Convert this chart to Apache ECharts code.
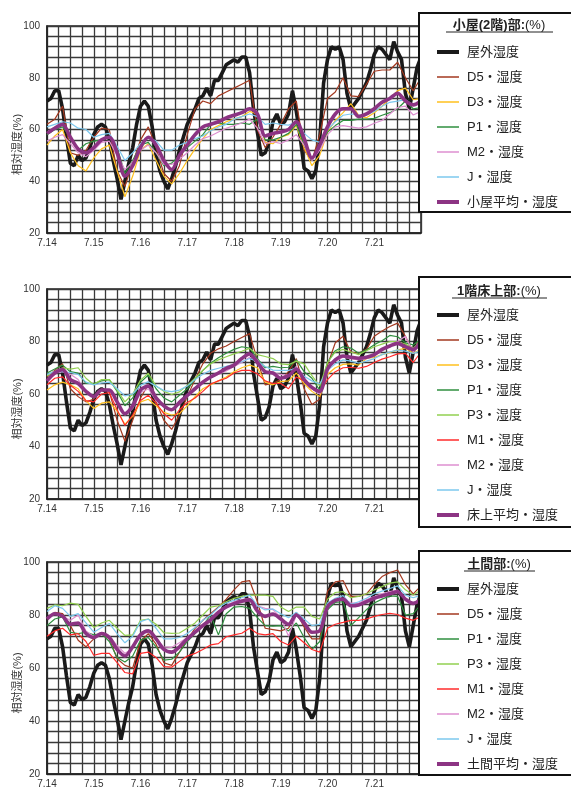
<!DOCTYPE html>
<html>
<head>
<meta charset="utf-8">
<script src="https://cdn.jsdelivr.net/npm/echarts@6/dist/echarts.min.js"></script>
<style>
  html, body { margin: 0; padding: 0; background: #fff; }
  #chart { width: 571px; height: 790px; }
</style>
</head>
<body>
<div id="chart"></div>
<script>
// Relative humidity, 7/14 - 7/22. Day 0 = 7.14 00:00.
const dayLabels = ['7.14', '7.15', '7.16', '7.17', '7.18', '7.19', '7.20', '7.21', '7.22'];
const yTicks = [20, 40, 60, 80, 100];

// sampling intervals (hours)
const outdoorStepHours = 2;
const indoorStepHours = 4;

// 屋外湿度 (every 2 h)
const outdoorRH = [
  71, 72, 75, 75, 68, 57, 47, 46, 50, 48, 49, 53,
  58, 61, 62, 61, 56, 48, 41, 33, 40, 47, 53, 62,
  69, 71, 69, 61, 50, 44, 40, 37, 41, 46, 52, 57,
  62, 65, 68, 72, 73, 76, 73, 79, 79, 82, 85, 86,
  87, 86, 88, 88, 82, 68, 59, 50, 51, 55, 63, 66,
  62, 63, 66, 75, 67, 57, 45, 44, 41, 44, 56, 78,
  87, 92, 91, 92, 87, 74, 68, 70, 72, 75, 78, 83,
  89, 92, 91, 89, 87, 94, 90, 87, 74, 68, 76, 84,
  88
];

// ---- 小屋(2階)部 (every 4 h) ----
const atticD5 = [
  62, 64, 69, 51, 50, 52, 57, 60.5, 60, 44, 38, 47,
  56, 61, 53, 43, 40, 46, 58, 68, 71, 70, 73, 74.5,
  76, 77.5, 79, 60, 53, 57, 62, 68, 71, 52, 48, 58,
  72, 74.5, 80, 73, 72.7, 77.5, 82.5, 83, 83, 86, 80, 75,
  80
];
const atticD3 = [
  54, 57.5, 60, 51, 46, 44, 49, 52.5, 54, 44, 34, 42,
  52, 54.5, 48, 42, 39, 43, 48, 52.5, 56.5, 60, 61.5, 63,
  64, 65, 67, 66, 55, 54.5, 57, 58, 61.5, 53, 46, 50,
  59, 63.5, 66.5, 70, 65.5, 64.5, 66.5, 69, 72, 75, 76, 71.5,
  72
];
const atticP1 = [
  58, 60, 61, 57, 52, 54.5, 55.5, 56, 57, 53, 43, 48,
  54, 55, 51, 46, 47, 50, 53, 55.5, 58, 62, 62.5, 62,
  62, 62.5, 62, 64, 56, 56, 57, 58.5, 62, 54, 48, 53,
  59, 61.5, 63.5, 63.5, 64, 64, 64.3, 65.5, 66.5, 68, 71, 68,
  68.5
];
const atticM2 = [
  55.5, 57, 58, 54.5, 51, 49.5, 52, 55, 55.5, 50, 44.5, 47.5,
  52, 54, 51, 46.5, 46.5, 48.5, 51, 54, 56.5, 57.5, 59, 60.5,
  61.5, 62.5, 64, 60.5, 54.5, 55.3, 54.6, 56, 58, 54, 48, 52,
  58, 61, 61.5, 61, 60.5, 61, 62.4, 63.5, 66, 68.5, 69, 65.6,
  67
];
const atticJ = [
  61, 62, 63, 62.5, 60.5, 60, 57, 58, 58.5, 53.5, 48, 51,
  54.5, 57, 55.5, 52, 52, 54, 55, 56.5, 57.5, 59.5, 61, 62,
  64, 65, 66, 65, 62, 62.5, 62, 61.7, 63, 58.5, 56, 55,
  60, 63, 65.5, 66, 65.6, 65.6, 67, 69, 70.5, 71, 71.5, 69.5,
  70
];
const atticAvg = [
  58.5, 60.5, 62, 57, 52.5, 51, 53, 56, 57, 51, 42, 46,
  53, 57, 54, 48, 44.5, 50, 54, 58, 61, 62, 63, 64.5,
  65.5, 66.5, 68, 66, 57.5, 58.5, 59, 60, 63, 56.5, 49, 54,
  61, 66, 68, 68, 65, 66, 68, 70.5, 72, 74, 71, 69.5,
  71
];

// ---- 1階床上部 (every 4 h) ----
const floorD5 = [
  66.5, 69, 71.5, 62, 59, 57, 58, 62, 61, 50, 42, 50,
  58.5, 63.5, 57, 50, 46.5, 52, 59, 65.5, 71.5, 75.5, 77.2, 78.3,
  80, 81.5, 83, 73, 63.5, 64, 65.5, 68.5, 73.5, 62, 56, 58,
  71, 79.5, 82, 76, 75.5, 77, 82, 84, 85.7, 87, 82, 76,
  82
];
const floorD3 = [
  61.5, 63.5, 64.5, 63.5, 62, 57.5, 54.5, 56.5, 57, 53.5, 48.5, 51.5,
  57, 58, 55.5, 53, 52, 52.5, 55.5, 59, 62, 63.5, 65, 66.5,
  68.5, 70, 71, 70, 64.5, 63.5, 64.7, 65, 68, 64, 61, 59,
  67.5, 70, 71.3, 71.5, 71, 73.5, 74, 75, 75.8, 76.8, 77.4, 75.5,
  77
];
const floorP1 = [
  68, 69.5, 71, 68.5, 68, 64, 64, 65, 65.5, 61, 55.5, 58.5,
  64.5, 67.2, 62, 58.5, 57, 59.5, 62, 65.5, 69, 71.7, 73.8, 75.5,
  77, 78, 77.5, 73.5, 70, 70.5, 70, 70.2, 73, 68.5, 66, 61.5,
  72, 76.5, 78, 77.5, 75.5, 76.8, 78.8, 80.3, 82.3, 81.8, 79.5, 78.7,
  81
];
const floorP3 = [
  67, 68.5, 70, 69.5, 70, 66, 63.5, 65.5, 65.5, 61.5, 57, 60,
  65.3, 67.9, 63, 61, 59.8, 60.8, 63.3, 66, 69, 71.5, 73, 74.2,
  75.3, 76.3, 77.4, 75, 74.3, 73.5, 71.5, 71.2, 72.5, 71.5, 67, 63,
  72, 76, 77, 76, 75, 76.5, 78, 79, 80, 80, 79, 77.5,
  80
];
const floorM1 = [
  63.5, 66, 66.5, 63.3, 61, 57.5, 57, 60, 60.5, 54, 48, 52,
  57.5, 59.5, 56.5, 52.5, 50, 54, 56.8, 58.5, 61, 63.8, 65, 66,
  68, 69, 69, 67.7, 65, 64, 64, 62, 66.5, 65, 62, 60.5,
  65.5, 68.5, 70, 70.2, 69.8, 70.5, 72, 73.3, 74.2, 75.3, 75.5, 72,
  76
];
const floorM2 = [
  65.3, 68, 68.5, 67.5, 65.5, 61, 58.5, 61.5, 61.5, 57, 52, 54.5,
  60.5, 62, 57.5, 55, 53.8, 56, 59, 61.5, 64.5, 66.5, 67.5, 68.8,
  70.5, 72, 74, 73, 68.5, 67.9, 67.5, 67, 70.5, 65.5, 62, 60,
  69, 72.5, 74, 73.5, 73, 73.5, 74.5, 76.5, 78, 80, 82, 76,
  79
];
const floorJ = [
  67.5, 68.5, 68.5, 68.2, 67.5, 64.5, 63.5, 64.2, 64.5, 62, 59.3, 60,
  63.3, 64.7, 63, 61.3, 60.9, 61.5, 63, 65.5, 67.5, 69, 69.8, 70.5,
  71.3, 72.3, 73.5, 72.5, 70.5, 69.1, 69, 69, 69.8, 66.8, 65, 63.8,
  69, 71.5, 73, 72.5, 71.8, 72.5, 73.5, 75, 76, 76.8, 76.3, 75.5,
  76.5
];
const floorAvg = [
  65, 68, 69.3, 65.5, 64, 61, 59, 61.5, 61.5, 57, 52.5, 55.5,
  61.5, 63, 58.5, 55.5, 54, 56.8, 59.5, 62, 64.5, 66.5, 68, 69.8,
  71, 73.5, 75.3, 72, 68.5, 68, 66, 67, 69.5, 65.5, 62.5, 61,
  69.5, 73, 74.5, 74, 73.6, 74, 75, 77, 78.3, 79.3, 78, 77,
  80
];

// ---- 土間部 (every 4 h) ----
const dirtD5 = [
  78.5, 81, 80.5, 76, 70.5, 68, 71, 73, 71, 63.5, 61, 60,
  70, 73, 69, 62, 61, 66, 70.5, 75, 78, 80.5, 83, 86,
  89.5, 92.5, 93, 85, 75, 74.5, 74, 75, 81, 75.5, 71, 71,
  89, 92.5, 93, 87, 87, 88, 91.5, 94.5, 96, 97, 91.5, 88,
  91
];
const dirtP1 = [
  76, 78.5, 79.3, 73.5, 73, 73.5, 72.5, 73, 70, 64, 62.3, 64.5,
  70.5, 71.5, 68, 63, 63.3, 66, 70, 73, 76, 80, 72.5, 80.5,
  83, 83.2, 82.5, 79, 76, 75.8, 76, 74, 77, 71.5, 67, 70,
  82, 84.8, 85, 76, 79, 82, 84.5, 86, 87.2, 87, 80, 80.5,
  84
];
const dirtP3 = [
  82.5, 83.8, 83.5, 84.5, 84, 79.5, 75.3, 77, 78, 75, 72.3, 72.5,
  78, 78.5, 76.5, 73.3, 73.1, 73.2, 75, 77, 80, 83, 83.5, 85,
  86.3, 87, 87.5, 87.5, 87.5, 87, 83, 81.3, 83, 83, 79.5, 78.5,
  86, 88.5, 88.8, 86.5, 87, 88, 89.5, 90.7, 92, 92.5, 89.5, 87.5,
  89.5
];
const dirtM1 = [
  72, 74, 75, 72.5, 73, 70, 64.8, 65.5, 65.5, 62, 58.3, 57.8,
  65.5, 66, 64, 60.5, 60.3, 62.5, 64.5, 65.5, 67, 68.7, 69.2, 71.8,
  72.5, 73.1, 75, 73, 72.5, 73, 70, 68.7, 72, 69.5, 67, 66,
  75, 76.5, 77.2, 78, 78, 78.5, 79.5, 80.2, 80.6, 80.2, 78.8, 78,
  79.4
];
const dirtM2 = [
  79, 80.5, 79.5, 78, 80, 74, 71.8, 73, 72, 68.5, 65.5, 67.5,
  72, 74, 71, 68, 67.8, 69.5, 71.5, 74, 76.5, 78.7, 81.5, 83.5,
  85, 85.8, 86.3, 83.5, 82.5, 82, 79, 72, 80, 76.5, 73.5, 74,
  83, 85.7, 86.2, 84.5, 84.5, 85.8, 87, 88, 88.8, 89.4, 86, 84.4,
  86.3
];
const dirtJ = [
  81.3, 83.5, 82.5, 79.5, 80.5, 77, 73.5, 75.3, 76.8, 73, 69.5, 72,
  77.5, 78.5, 75, 71, 71, 71.5, 73, 75.3, 78, 80, 82.8, 84.5,
  85.5, 86.5, 87.5, 83.5, 81.9, 82.3, 80.5, 79, 81, 78.5, 76, 76.5,
  84.5, 86.3, 87.3, 84, 85, 86.3, 88, 89, 90, 91, 87.5, 86.5,
  87.5
];
const dirtAvg = [
  78.5, 80.5, 79.5, 76.5, 77, 73, 71.5, 73, 71.5, 67, 64.5, 68,
  72.5, 74, 71, 67, 66, 68, 71, 73.5, 76, 78.2, 81, 83,
  84.3, 85.2, 85.7, 81.5, 79.5, 80.4, 78.5, 76.5, 80, 77, 73.5, 74,
  83, 85.5, 86, 83.5, 83.8, 85, 86.3, 87.2, 88, 88.8, 86, 84.4,
  86
];

const FONT = "'Liberation Sans', 'Noto Sans CJK JP', sans-serif";

const COLORS = {
  outdoor: '#1a1a1a',
  D5: '#a3381f',
  D3: '#ffc01e',
  P1: '#2f8f3f',
  P3: '#92d050',
  M1: '#ff2b2b',
  M2: '#de8fd0',
  J: '#7cc8ee',
  avg: '#8c3483'
};

// legend swatches: plain bars, thick for outdoor/average, thin for sensors
const THICK_ICON = 'path://M0,0h22v4h-22z';
const THIN_ICON = 'path://M0,0h22v1.5h-22z';

// convert a sampled series to [day, value] pairs
function toPairs(values, stepHours) {
  return values.map((v, i) => [i * stepHours / 24, v]);
}

const panels = [
  {
    title: '小屋(2階)部',
    grid: { left: 47, top: 26, width: 374, height: 207 },
    box: { y: 13, h: 199 },
    titleY: 25,
    legendTop: 40,
    lines: [
      ['D5・湿度', atticD5, COLORS.D5],
      ['D3・湿度', atticD3, COLORS.D3],
      ['P1・湿度', atticP1, COLORS.P1],
      ['M2・湿度', atticM2, COLORS.M2],
      ['J・湿度', atticJ, COLORS.J]
    ],
    avg: ['小屋平均・湿度', atticAvg]
  },
  {
    title: '1階床上部',
    grid: { left: 47, top: 289, width: 374, height: 210 },
    box: { y: 277, h: 250 },
    titleY: 291,
    legendTop: 303,
    lines: [
      ['D5・湿度', floorD5, COLORS.D5],
      ['D3・湿度', floorD3, COLORS.D3],
      ['P1・湿度', floorP1, COLORS.P1],
      ['P3・湿度', floorP3, COLORS.P3],
      ['M1・湿度', floorM1, COLORS.M1],
      ['M2・湿度', floorM2, COLORS.M2],
      ['J・湿度', floorJ, COLORS.J]
    ],
    avg: ['床上平均・湿度', floorAvg]
  },
  {
    title: '土間部',
    grid: { left: 47, top: 562, width: 374, height: 212 },
    box: { y: 551, h: 224 },
    titleY: 564,
    legendTop: 577,
    lines: [
      ['D5・湿度', dirtD5, COLORS.D5],
      ['P1・湿度', dirtP1, COLORS.P1],
      ['P3・湿度', dirtP3, COLORS.P3],
      ['M1・湿度', dirtM1, COLORS.M1],
      ['M2・湿度', dirtM2, COLORS.M2],
      ['J・湿度', dirtJ, COLORS.J]
    ],
    avg: ['土間平均・湿度', dirtAvg]
  }
];

const grids = [], xAxes = [], yAxes = [], series = [], legends = [], graphics = [];

panels.forEach((p, idx) => {
  grids.push(Object.assign({
    show: true, borderColor: '#222', borderWidth: 1.5, backgroundColor: '#fff',
    containLabel: false, outerBoundsMode: 'none'
  }, p.grid));

  xAxes.push({
    type: 'value', gridIndex: idx, min: 0, max: dayLabels.length - 1, interval: 1,
    axisLine: { show: true, lineStyle: { color: '#222', width: 1.5 } },
    axisTick: { show: false },
    minorTick: { show: false, splitNumber: 4 },
    splitLine: { show: true, lineStyle: { color: '#3a3a3a', width: 1.3 } },
    minorSplitLine: { show: true, lineStyle: { color: '#3a3a3a', width: 1.3 } },
    axisLabel: {
      show: true, margin: 5, fontSize: 10, color: '#333', fontFamily: FONT,
      formatter: v => (v < dayLabels.length - 1 ? dayLabels[Math.round(v)] : '')
    }
  });

  yAxes.push({
    type: 'value', gridIndex: idx, min: yTicks[0], max: yTicks[yTicks.length - 1], interval: 20,
    name: '相対湿度(%)', nameLocation: 'middle', nameGap: 24, nameRotate: 90,
    nameMoveOverlap: false,
    nameTextStyle: { fontSize: 11, color: '#333', fontFamily: FONT, padding: [0, 30, 0, 0] },
    axisLine: { show: true, lineStyle: { color: '#222', width: 1.5 } },
    axisTick: { show: false },
    minorTick: { show: false, splitNumber: 5 },
    splitLine: { show: true, lineStyle: { color: '#3a3a3a', width: 1.3 } },
    minorSplitLine: { show: true, lineStyle: { color: '#3a3a3a', width: 1.3 } },
    axisLabel: { margin: 7, fontSize: 10, color: '#333', fontFamily: FONT }
  });

  const legendData = [];

  series.push({
    name: '屋外湿度', type: 'line', xAxisIndex: idx, yAxisIndex: idx,
    data: toPairs(outdoorRH, outdoorStepHours), symbol: 'none',
    lineStyle: { color: COLORS.outdoor, width: 3.6 }, itemStyle: { color: COLORS.outdoor },
    z: 3
  });
  legendData.push({ name: '屋外湿度', icon: THICK_ICON });

  p.lines.forEach(([name, values, color]) => {
    series.push({
      name, type: 'line', xAxisIndex: idx, yAxisIndex: idx,
      data: toPairs(values, indoorStepHours), symbol: 'none',
      lineStyle: { color, width: 1.2 }, itemStyle: { color },
      z: 4
    });
    legendData.push({ name, icon: THIN_ICON });
  });

  series.push({
    name: p.avg[0], type: 'line', xAxisIndex: idx, yAxisIndex: idx,
    data: toPairs(p.avg[1], indoorStepHours), symbol: 'none', smooth: 0.3,
    lineStyle: { color: COLORS.avg, width: 3.6 }, itemStyle: { color: COLORS.avg },
    z: 5
  });
  legendData.push({ name: p.avg[0], icon: THICK_ICON });

  legends.push({
    orient: 'vertical', left: 432, top: p.legendTop, z: 30,
    itemWidth: 22, itemHeight: 14, itemGap: 11,
    selectedMode: false,
    data: legendData,
    textStyle: { fontSize: 13, color: '#222', fontFamily: FONT, lineHeight: 14, padding: [0, 0, 0, 3] }
  });

  // legend frame and heading
  graphics.push({
    type: 'rect', z: 20,
    shape: { x: 419, y: p.box.y, width: 170, height: p.box.h },
    style: { fill: '#fff', stroke: '#111', lineWidth: 2 }
  });
  graphics.push({
    type: 'text', z: 31, x: 499, y: p.titleY,
    style: {
      text: '{b|' + p.title + ':}{n|(%)}', align: 'center', verticalAlign: 'middle',
      rich: {
        b: { fontSize: 13, fontWeight: 'bold', fill: '#222', fontFamily: FONT },
        n: { fontSize: 13, fill: '#222', fontFamily: FONT }
      }
    }
  });
});

// underline under each legend heading
const headingUnderline = [
  { x1: 446, x2: 553, y: 32 },
  { x1: 452, x2: 547, y: 298 },
  { x1: 464, x2: 535, y: 571 }
];
headingUnderline.forEach(u => graphics.push({
  type: 'line', z: 31,
  shape: { x1: u.x1, y1: u.y, x2: u.x2, y2: u.y },
  style: { stroke: '#222', lineWidth: 1 }
}));

const chart = echarts.init(document.getElementById('chart'), null, { renderer: 'canvas' });
chart.setOption({
  animation: false,
  backgroundColor: '#fff',
  grid: grids,
  xAxis: xAxes,
  yAxis: yAxes,
  legend: legends,
  series: series,
  graphic: { elements: graphics }
});
</script>
</body>
</html>
